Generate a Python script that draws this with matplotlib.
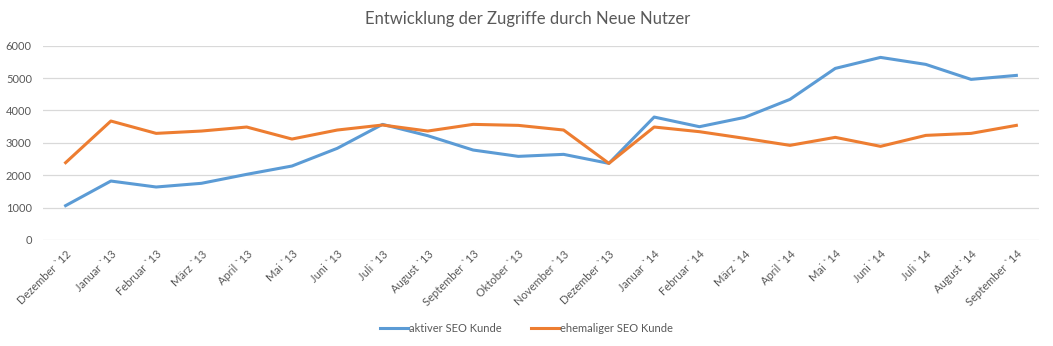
import matplotlib
matplotlib.use("Agg")
import matplotlib.pyplot as plt

plt.rcParams['font.family'] = ['Lato', 'DejaVu Sans']

# Monate (x-Achse)
monate = ["Dezember `12", "Januar `13", "Februar `13", "März `13", "April `13", "Mai `13",
          "Juni `13", "Juli `13", "August `13", "September `13", "Oktober `13", "November `13",
          "Dezember `13", "Januar `14", "Februar `14", "März `14", "April `14", "Mai `14",
          "Juni `14", "Juli `14", "August `14", "September `14"]

# neue Nutzer pro Monat
aktiv = [1060, 1820, 1636, 1750, 2027, 2284, 2830, 3570, 3220, 2778, 2582, 2644,
         2366, 3796, 3498, 3786, 4342, 5298, 5638, 5422, 4959, 5082]
ehemalig = [2387, 3673, 3292, 3364, 3488, 3117, 3395, 3550, 3364, 3570, 3539, 3395,
            2366, 3488, 3344, 3138, 2922, 3169, 2891, 3230, 3292, 3539]

grau = "#595959"

fig = plt.figure(figsize=(10.53, 3.46), dpi=100)
ax = fig.add_axes([0.0408, 0.3064, 0.9459, 0.5616])

x = range(len(monate))
ax.plot(x, aktiv, color="#5b9bd5", lw=2.2, label="aktiver SEO Kunde", solid_joinstyle="round")
ax.plot(x, ehemalig, color="#ed7d31", lw=2.2, label="ehemaliger SEO Kunde", solid_joinstyle="round")

ax.set_xlim(-0.5, len(monate) - 0.5)
ax.set_ylim(0, 6000)
ax.set_yticks(range(0, 7000, 1000))
ax.yaxis.grid(True, color="#d9d9d9", lw=0.9)
ax.set_axisbelow(True)
for s in ax.spines.values():
    s.set_visible(False)
ax.tick_params(length=0, colors=grau, labelsize=8)
ax.tick_params(axis="y", pad=8)
ax.set_xticks(list(x))
ax.set_xticklabels(monate, rotation=45, ha="right", rotation_mode="anchor")
ax.tick_params(axis="x", pad=6)

fig.text(0.501, 0.945, "Entwicklung der Zugriffe durch Neue Nutzer", ha="center", va="center",
         fontsize=12, color=grau)

fig.legend(loc="center", bbox_to_anchor=(0.5, 0.05), ncol=2, frameon=False,
           fontsize=8, labelcolor=grau, handlelength=2.5, handletextpad=0.1,
           columnspacing=2.6)

fig.savefig("out.png", dpi=100)
